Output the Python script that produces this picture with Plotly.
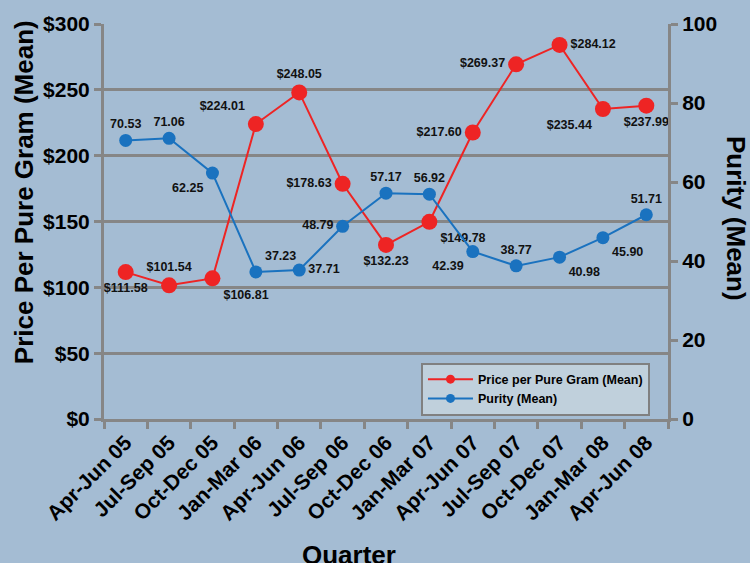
import plotly.graph_objects as go

quarters = ["Apr-Jun 05", "Jul-Sep 05", "Oct-Dec 05", "Jan-Mar 06", "Apr-Jun 06", "Jul-Sep 06",
            "Oct-Dec 06", "Jan-Mar 07", "Apr-Jun 07", "Jul-Sep 07", "Oct-Dec 07", "Jan-Mar 08", "Apr-Jun 08"]
price = [111.58, 101.54, 106.81, 224.01, 248.05, 178.63, 132.23, 149.78, 217.60, 269.37, 284.12, 235.44, 237.99]
purity = [70.53, 71.06, 62.25, 37.23, 37.71, 48.79, 57.17, 56.92, 42.39, 38.77, 40.98, 45.90, 51.71]

price_pos = ["bottom center", "top center", "bottom right", "top left", "top center", "middle left",
             "bottom center", "bottom right", "middle left", "middle left", "middle right", "bottom left", "bottom center"]
purity_pos = ["top center", "top center", "bottom left", "top right", "middle right", "middle left",
              "top center", "top center", "bottom left", "top center", "bottom right", "bottom right", "top center"]

FONT = "Liberation Sans, Arial, sans-serif"
BG = "#a4bcd3"
GRID = "#868686"
RED = "#ee2424"
BLUE = "#1a72bf"
LBL = dict(family=FONT, size=12.5, color="#111111", weight="bold")

fig = go.Figure()
fig.add_trace(go.Scatter(
    x=quarters, y=price, name="Price per Pure Gram (Mean)", mode="lines+markers+text", showlegend=False,
    line=dict(color=RED, width=2), marker=dict(color=RED, size=16), cliponaxis=False,
    text=[f"${v:.2f}" for v in price], textposition=price_pos, textfont=LBL,
))
fig.add_trace(go.Scatter(
    x=quarters, y=purity, name="Purity (Mean)", mode="lines+markers+text", yaxis="y2", showlegend=False,
    line=dict(color=BLUE, width=2), marker=dict(color=BLUE, size=13), cliponaxis=False,
    text=[f"{v:.2f}" for v in purity], textposition=purity_pos, textfont=LBL,
))
# legend entries (smaller symbols, as in the reference legend)
fig.add_trace(go.Scatter(x=[None], y=[None], name="Price per Pure Gram (Mean)", mode="lines+markers",
                         line=dict(color=RED, width=2), marker=dict(color=RED, size=9)))
fig.add_trace(go.Scatter(x=[None], y=[None], name="Purity (Mean)", mode="lines+markers",
                         line=dict(color=BLUE, width=2), marker=dict(color=BLUE, size=9)))

fig.update_layout(
    width=750, height=563,
    margin=dict(l=104, r=82, t=20, b=144),
    paper_bgcolor=BG, plot_bgcolor=BG,
    font=dict(family=FONT, color="#000000"),
    xaxis=dict(
        type="category", range=[-0.5, 12.5], tickson="boundaries", ticks="outside", ticklen=7,
        tickwidth=3, tickcolor=GRID, showline=True, linecolor=GRID, linewidth=3, showgrid=False,
        tickangle=-45, tickfont=dict(family=FONT, size=21, weight="bold"),
    ),
    yaxis=dict(
        range=[0, 300], dtick=50, tickprefix="$", ticks="outside", ticklen=7, tickwidth=3,
        tickcolor=GRID, showline=True, linecolor=GRID, linewidth=3, gridcolor=GRID, gridwidth=3,
        zeroline=False, tickfont=dict(family=FONT, size=21, weight="bold"),
    ),
    yaxis2=dict(
        range=[0, 100], dtick=20, overlaying="y", side="right", ticks="outside", ticklen=7, tickwidth=3,
        tickcolor=GRID, showline=True, linecolor=GRID, linewidth=3, showgrid=False, zeroline=False,
        tickfont=dict(family=FONT, size=21, weight="bold"),
    ),
    showlegend=True,
    legend=dict(
        x=0.562, y=0.143, xanchor="left", yanchor="top", itemwidth=45,
        bgcolor="#c0d0dc", bordercolor="#808080", borderwidth=2,
        font=dict(family=FONT, size=12.5, weight="bold"), tracegroupgap=0,
    ),
    annotations=[
        dict(text="Price Per Pure Gram (Mean)", xref="paper", yref="paper", x=-0.142, y=0.574,
             xanchor="center", yanchor="middle",
             showarrow=False, textangle=-90, font=dict(family=FONT, size=26, weight="bold")),
        dict(text="Purity (Mean)", xref="paper", yref="paper", x=1.1206, y=0.509,
             xanchor="center", yanchor="middle", showarrow=False,
             textangle=90, font=dict(family=FONT, size=26, weight="bold")),
        dict(text="Quarter", xref="paper", yref="paper", x=0.434, y=-0.345, xanchor="center",
             yanchor="middle", showarrow=False, font=dict(family=FONT, size=26, weight="bold")),
    ],
)

fig.write_html("out.html", post_script="document.body.style.margin='0';",
               config={"displayModeBar": False})
